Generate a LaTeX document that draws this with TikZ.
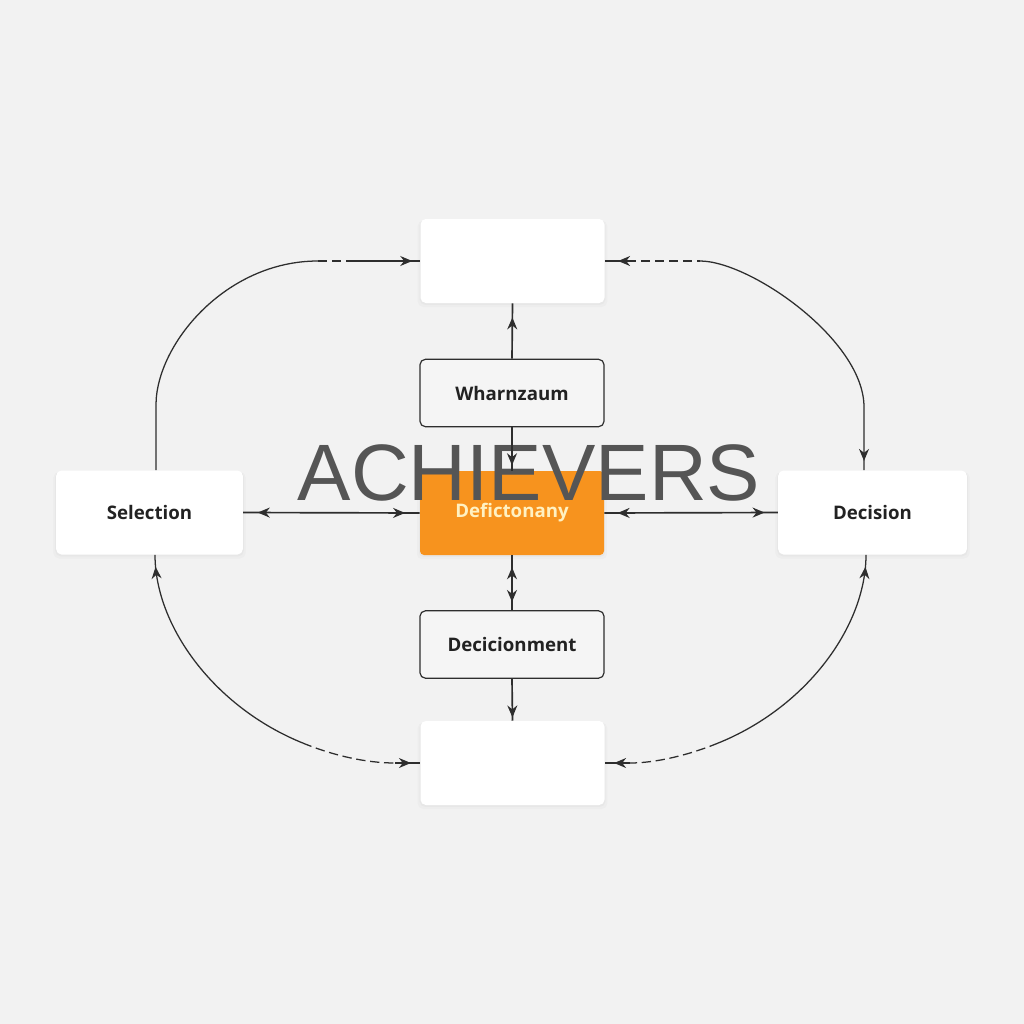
\documentclass[tikz,border=0pt]{standalone}
\usepackage{fontspec}
\setmainfont{Open Sans}
\newfontfamily\titlefont{Liberation Sans}
\usetikzlibrary{arrows.meta,decorations.markings,shadows,calc}
\definecolor{bg}{HTML}{F2F2F2}
\definecolor{linec}{HTML}{2E2E2E}
\definecolor{orangec}{HTML}{F7931E}
\definecolor{orangetext}{HTML}{FFF1C2}
\definecolor{boxfill}{HTML}{F5F5F5}
\definecolor{titlec}{HTML}{555555}
\definecolor{labelc}{HTML}{222222}
\tikzset{
  softshadow/.style={
    drop shadow={shadow xshift=0pt,shadow yshift=-2pt,opacity=0.04,shadow scale=1.03},
    drop shadow={shadow xshift=0pt,shadow yshift=-1pt,opacity=0.05,shadow scale=1.01}},
  bigbox/.style={fill=white,draw=none,rounded corners=4pt,minimum width=138pt,
    minimum height=63pt,inner sep=0pt,softshadow},
  smallbox/.style={fill=boxfill,draw=linec,line width=0.9pt,rounded corners=4pt,
    minimum width=138pt,minimum height=50.5pt,inner sep=0pt},
  orangebox/.style={fill=orangec,draw=none,rounded corners=3pt,minimum width=138pt,
    minimum height=63pt,inner sep=0pt,softshadow},
  lbl/.style={font=\fontsize{14}{16}\selectfont\bfseries,text=labelc},
  conn/.style={draw=linec,line width=1.25pt},
  curve/.style={draw=linec,line width=0.95pt},
  dashseg/.style={curve,dash pattern=on 7pt off 3.5pt},
  atip/.style={postaction={decorate,decoration={markings,
    mark=at position #1 with {\arrow{Stealth[length=9pt,width=7.5pt]}}}}},
  rtipat/.style={postaction={decorate,decoration={markings,
    mark=at position #1 with {\arrowreversed{Stealth[length=9pt,width=7.5pt]}}}}},
}
\begin{document}
\begin{tikzpicture}[x=0.75pt,y=-0.75pt]
\fill[bg] (0,0) rectangle (1024,1024);
\useasboundingbox (0,0) rectangle (1024,1024);

% nodes
\node[bigbox] (top) at (512.5,261) {};
\node[smallbox,lbl] (wh) at (512,393) {Wharnzaum};
\node[orangebox,lbl,text=orangetext] (orng) at (512,513) {Defictonany};
\node[smallbox,lbl] (dec2) at (512,644.5) {Decicionment};
\node[bigbox] (bot) at (512.5,763) {};
\node[bigbox,minimum width=140pt,lbl] (sel) at (149.5,512.5) {Selection};
\node[bigbox,minimum width=141.5pt,lbl] (dec) at (872.5,512.5) {Decision};

% title
\node[font=\titlefont\fontsize{60}{60}\selectfont,text=titlec,anchor=base,inner sep=0pt,
  text depth=0pt] (title) at (529,500) {ACHIEVERS};

% straight connectors
\draw[conn,atip=31pt] (wh.north) -- (top.south);
\draw[conn,atip=28.5pt] (wh.south) -- (orng.north);
\draw[conn,rtipat=9pt,atip=35pt] (orng.south) -- (dec2.north);
\draw[conn,atip=29pt] (dec2.south) -- (bot.north);
\draw[conn,rtipat=11pt,atip=-11pt] (sel.east) -- (orng.west);
\draw[conn,rtipat=10pt,atip=-10pt] (orng.east) -- (dec.west);

% top-left loop
\coordinate (tla) at (318,261);
\coordinate (tlb) at (350,261);
\draw[curve] ($(sel.north)+(6.5,0)$) -- (156,405) .. controls (156,345) and (225,261) .. (tla);
\draw[dashseg] (tla) -- (tlb);
\draw[curve,atip=-6pt] (tlb) -- (top.west);

% top-right loop
\coordinate (tra) at (627,261);
\coordinate (trb) at (700,261);
\draw[curve,rtipat=10pt] (top.east) -- (tra);
\draw[dashseg] (tra) -- (trb);
\draw[curve,atip=-7pt] (trb) .. controls (750,261) and (864,340) .. (864,407) -- ($(dec.north)+(-8.5,0)$);

% bottom-left loop
\coordinate (bla) at (302.7,743);
\coordinate (blb) at (395,763);
\draw[curve,rtipat=9pt] ($(sel.south)+(5.5,0)$) .. controls (155,626) and (214,707) .. (bla);
\draw[dashseg] (bla) .. controls (332,755) and (365,763) .. (blb);
\draw[curve,atip=-7pt] (blb) -- (bot.west);

% bottom-right loop
\coordinate (bra) at (718.3,743);
\coordinate (brb) at (630,763);
\draw[curve,rtipat=9pt] ($(dec.south)+(-6.5,0)$) .. controls (866,626) and (807,707) .. (bra);
\draw[dashseg] (bra) .. controls (689,755) and (656,763) .. (brb);
\draw[curve,atip=-7pt] (brb) -- (bot.east);
\end{tikzpicture}
\end{document}
